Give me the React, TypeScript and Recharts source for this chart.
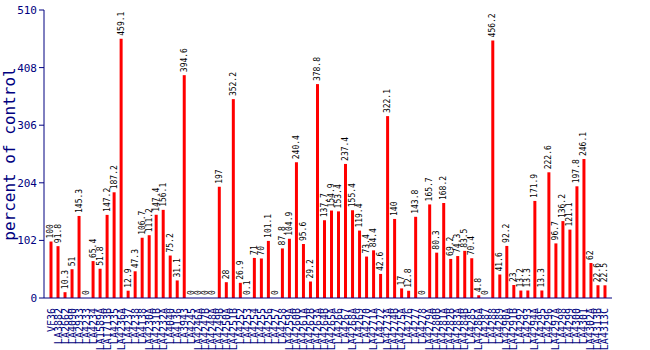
import React from 'react';
import { ComposedChart, Bar, Line, XAxis, YAxis } from 'recharts';

// accession names (x axis), read as best as possible from the picture
const categories = [
  'VF36', 'LA3882', 'LA2662', 'LA4090', 'LA2933', 'LA4233', 'LA4234', 'LA1589A', 'LA1713B', 'LA4235',
  'LA4236A', 'LA4237', 'LA4238', 'LA4138', 'LA4230A', 'LA4231B', 'LA4232A', 'LA4040', 'LA4136', 'LA3943',
  'LA4245', 'LA4246A', 'LA4247B', 'LA4248A', 'LA4249B', 'LA4250A', 'LA4251B', 'LA4252', 'LA4253', 'LA4254',
  'LA4255', 'LA4256', 'LA4257', 'LA4258', 'LA4259A', 'LA4260B', 'LA4261A', 'LA4262B', 'LA4263A', 'LA4264B',
  'LA4265A', 'LA4266', 'LA4267', 'LA4268A', 'LA4269', 'LA4270', 'LA4271A', 'LA4272', 'LA4273A', 'LA4274B',
  'LA4275A', 'LA4276', 'LA4277', 'LA4278', 'LA4279A', 'LA4280B', 'LA4281A', 'LA4282B', 'LA4283A', 'LA4284B',
  'LA4285', 'LA4286A', 'LA4287', 'LA4288', 'LA4289', 'LA4290A', 'LA4291B', 'LA4292', 'LA4293', 'LA4294A',
  'LA4295', 'LA4296', 'LA4297A', 'LA4298', 'LA4299', 'LA4300', 'LA4301', 'LA4302A', 'LA4313B', 'LA4313C',
];

// percent of control values
const values = [
  100, 91.8, 10.3, 51, 145.3, 0, 65.4, 51.8, 147.2, 187.2,
  459.1, 12.9, 47.3, 106.7, 111.2, 147.4, 156.1, 75.2, 31.1, 394.6,
  0, 0, 0, 0, 197, 28, 352.2, 26.9, 0.1, 71,
  70, 101.1, 0, 87.8, 104.9, 240.4, 95.6, 29.2, 378.8, 137.7,
  154.9, 153.4, 237.4, 155.4, 119.4, 73.4, 84.4, 42.6, 322.1, 140,
  17, 12.8, 143.8, 0, 165.7, 80.3, 168.2, 69.2, 74.3, 83.5,
  70.4, 4.8, 0, 456.2, 41.6, 92.2, 23, 13.2, 13.3, 171.9,
  13.3, 222.6, 96.7, 136.2, 121.1, 197.8, 246.1, 62, 22.6, 22.5,
];

const yTicks = [0, 102, 204, 306, 408, 510];

const data = categories.map((name, i) => ({ name, value: values[i] }));

const NAVY = '#000080';
const MONO = '"DejaVu Sans Mono", monospace';

const XTick = (props: any) => {
  const { x, y, payload } = props;
  return (
    <text
      x={x}
      y={y + 2}
      transform={`rotate(-90 ${x} ${y + 2})`}
      textAnchor="end"
      dominantBaseline="central"
      fontSize={10}
      fontFamily={MONO}
      fill={NAVY}
    >
      {payload.value}
    </text>
  );
};

// value printed above each bar (also for the zero ones)
const ValueLabel = (props: any) => {
  const { x, y, value } = props;
  const ty = y - 3;
  return (
    <text
      x={x}
      y={ty}
      transform={`rotate(-90 ${x} ${ty})`}
      textAnchor="start"
      dominantBaseline="central"
      fontSize={8}
      fontFamily={MONO}
      fill="#000"
    >
      {String(value)}
    </text>
  );
};

export default function App() {
  if (typeof document !== 'undefined') document.body.style.margin = '0';
  return (
    <div style={{ width: 650, height: 350, background: '#fff' }}>
      <ComposedChart width={650} height={350} data={data} margin={{ top: 10, right: 38, bottom: 0, left: 0 }}>
        <XAxis
          xAxisId="bottom"
          dataKey="name"
          interval={0}
          height={52}
          tickLine={false}
          axisLine={{ stroke: NAVY }}
          tick={<XTick />}
          padding={{ left: 3.5, right: 3.5 }}
        />
        <XAxis xAxisId="top" dataKey="name" orientation="top" height={0} tick={false} tickLine={false} axisLine={{ stroke: NAVY }} />
        <YAxis
          yAxisId="left"
          domain={[0, 510]}
          ticks={yTicks}
          width={44}
          tickSize={5}
          tickLine={{ stroke: NAVY }}
          axisLine={{ stroke: NAVY }}
          tick={{ fill: NAVY, fontSize: 11, fontFamily: MONO }}
          label={{
            value: 'percent of control',
            angle: -90,
            position: 'insideLeft',
            dx: 4,
            style: { fill: NAVY, fontSize: 16, fontFamily: MONO, textAnchor: 'middle' },
          }}
        />
        <YAxis yAxisId="right" orientation="right" domain={[0, 510]} width={0} tick={false} tickLine={false} axisLine={{ stroke: NAVY }} />
        <Bar xAxisId="bottom" yAxisId="left" dataKey="value" fill="#ff0000" barSize={3} isAnimationActive={false} />
        <Line
          xAxisId="bottom"
          yAxisId="left"
          dataKey="value"
          stroke="none"
          dot={false}
          activeDot={false}
          label={<ValueLabel />}
          isAnimationActive={false}
        />
      </ComposedChart>
    </div>
  );
}
